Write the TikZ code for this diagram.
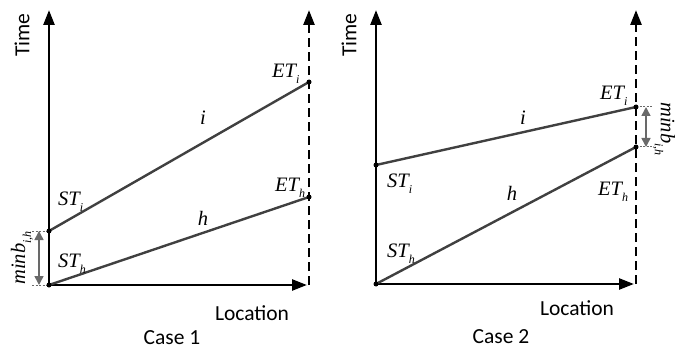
\documentclass[tikz,border=0pt]{standalone}
\usepackage{fontspec}
\setmainfont{Liberation Serif}
\newfontfamily\cali{Carlito}
\usetikzlibrary{arrows.meta, positioning}
\definecolor{linegray}{RGB}{64,64,64}
\definecolor{gapgray}{RGB}{105,105,105}
\newcommand{\tlab}[2]{#1\raisebox{-6pt}{\fontsize{12}{12}\selectfont #2}}

\begin{document}
\begin{tikzpicture}[x=1pt, y=-1pt,
  axis/.style={line width=2.6pt, -{Triangle[length=15pt,width=11pt]}},
  bound/.style={axis, dash pattern=on 9pt off 5pt},
  track/.style={line width=2.4pt, draw=linegray},
  dot/.style={circle, fill=black, inner sep=0pt, minimum size=5pt},
  gap/.style={line width=1.6pt, draw=gapgray, fill=gapgray,
              {Triangle[length=9pt,width=9pt]}-{Triangle[length=9pt,width=9pt]}},
  tickln/.style={line width=1pt, draw=gapgray, dash pattern=on 2pt off 1.5pt},
  axlbl/.style={font=\cali\fontsize{21.5}{21.5}\selectfont, inner sep=0pt},
  mlbl/.style={font=\rmfamily\itshape\fontsize{20.5}{20.5}\selectfont, inner sep=0pt},
  stamp/.style={mlbl, anchor=base west},
]
  \useasboundingbox (0,0) rectangle (688,350);

  % Case 1
  \coordinate (o1) at (49,285);
  \coordinate (top1) at (49,10);
  \coordinate (xend1) at (307,285);
  \coordinate (dbot1) at (309,285);
  \coordinate (dtop1) at (309,10);
  \coordinate (sti1) at (49,231);
  \coordinate (eti1) at (309,82);
  \coordinate (eth1) at (309,197);
  \coordinate (gtop1) at (39,231);
  \coordinate (gbot1) at (39,285);
  \coordinate (tka1) at (32,231);
  \coordinate (tkb1) at (32,285);

  \draw[bound] (dbot1) -- (dtop1);
  \draw[axis] (o1) -- (top1);
  \draw[axis] (o1) -- (xend1);
  \draw[track] (sti1) -- (eti1);
  \draw[track] (o1) -- (eth1);
  \draw[tickln] (tka1) -- (sti1);
  \draw[tickln] (tkb1) -- (o1);
  \draw[gap] (gtop1) -- (gbot1);
  \foreach \p in {o1, sti1, eti1, eth1}
    \node[dot] at (\p) {};

  \node[axlbl, rotate=90] (time1) at (22,35) {Time};
  \node[axlbl] (loc1) at (252,313) {Location};
  \node[axlbl] (case1) at (172,338) {Case 1};
  \node[mlbl] (lbli1) at (203,118) {i};
  \node[mlbl] (lblh1) at (203,218) {h};
  \node[stamp] (lsti1) at (58,205) {\tlab{ST}{i}};
  \node[stamp] (lsth1) at (58,267) {\tlab{ST}{h}};
  \node[stamp] (leti1) at (272,78) {\tlab{ET}{i}};
  \node[stamp] (leth1) at (275,191) {\tlab{ET}{h}};
  \node[mlbl, rotate=90] (lgap1) at (22,258) {\tlab{minb}{i,h}};

  % Case 2
  \coordinate (o2) at (376,284);
  \coordinate (top2) at (376,10);
  \coordinate (xend2) at (634,284);
  \coordinate (dbot2) at (636,284);
  \coordinate (dtop2) at (636,10);
  \coordinate (sti2) at (376,165);
  \coordinate (eti2) at (636,107);
  \coordinate (eth2) at (636,147);
  \coordinate (gtop2) at (646,107);
  \coordinate (gbot2) at (646,147);
  \coordinate (tka2) at (653,107);
  \coordinate (tkb2) at (653,147);

  \draw[bound] (dbot2) -- (dtop2);
  \draw[axis] (o2) -- (top2);
  \draw[axis] (o2) -- (xend2);
  \draw[track] (sti2) -- (eti2);
  \draw[track] (o2) -- (eth2);
  \draw[tickln] (eti2) -- (tka2);
  \draw[tickln] (eth2) -- (tkb2);
  \draw[gap] (gtop2) -- (gbot2);
  \foreach \p in {o2, sti2, eti2, eth2}
    \node[dot] at (\p) {};

  \node[axlbl, rotate=90] (time2) at (349,35) {Time};
  \node[axlbl] (loc2) at (577,308) {Location};
  \node[axlbl] (case2) at (501,337) {Case 2};
  \node[mlbl] (lbli2) at (523,118) {i};
  \node[mlbl] (lblh2) at (512,193) {h};
  \node[stamp] (lsti2) at (387,187) {\tlab{ST}{i}};
  \node[stamp] (lsth2) at (387,257) {\tlab{ST}{h}};
  \node[stamp] (leti2) at (600,100) {\tlab{ET}{i}};
  \node[stamp] (leth2) at (598,195) {\tlab{ET}{h}};
  \node[mlbl, rotate=-90] (lgap2) at (664,129) {\tlab{minb}{i,h}};
\end{tikzpicture}
\end{document}
